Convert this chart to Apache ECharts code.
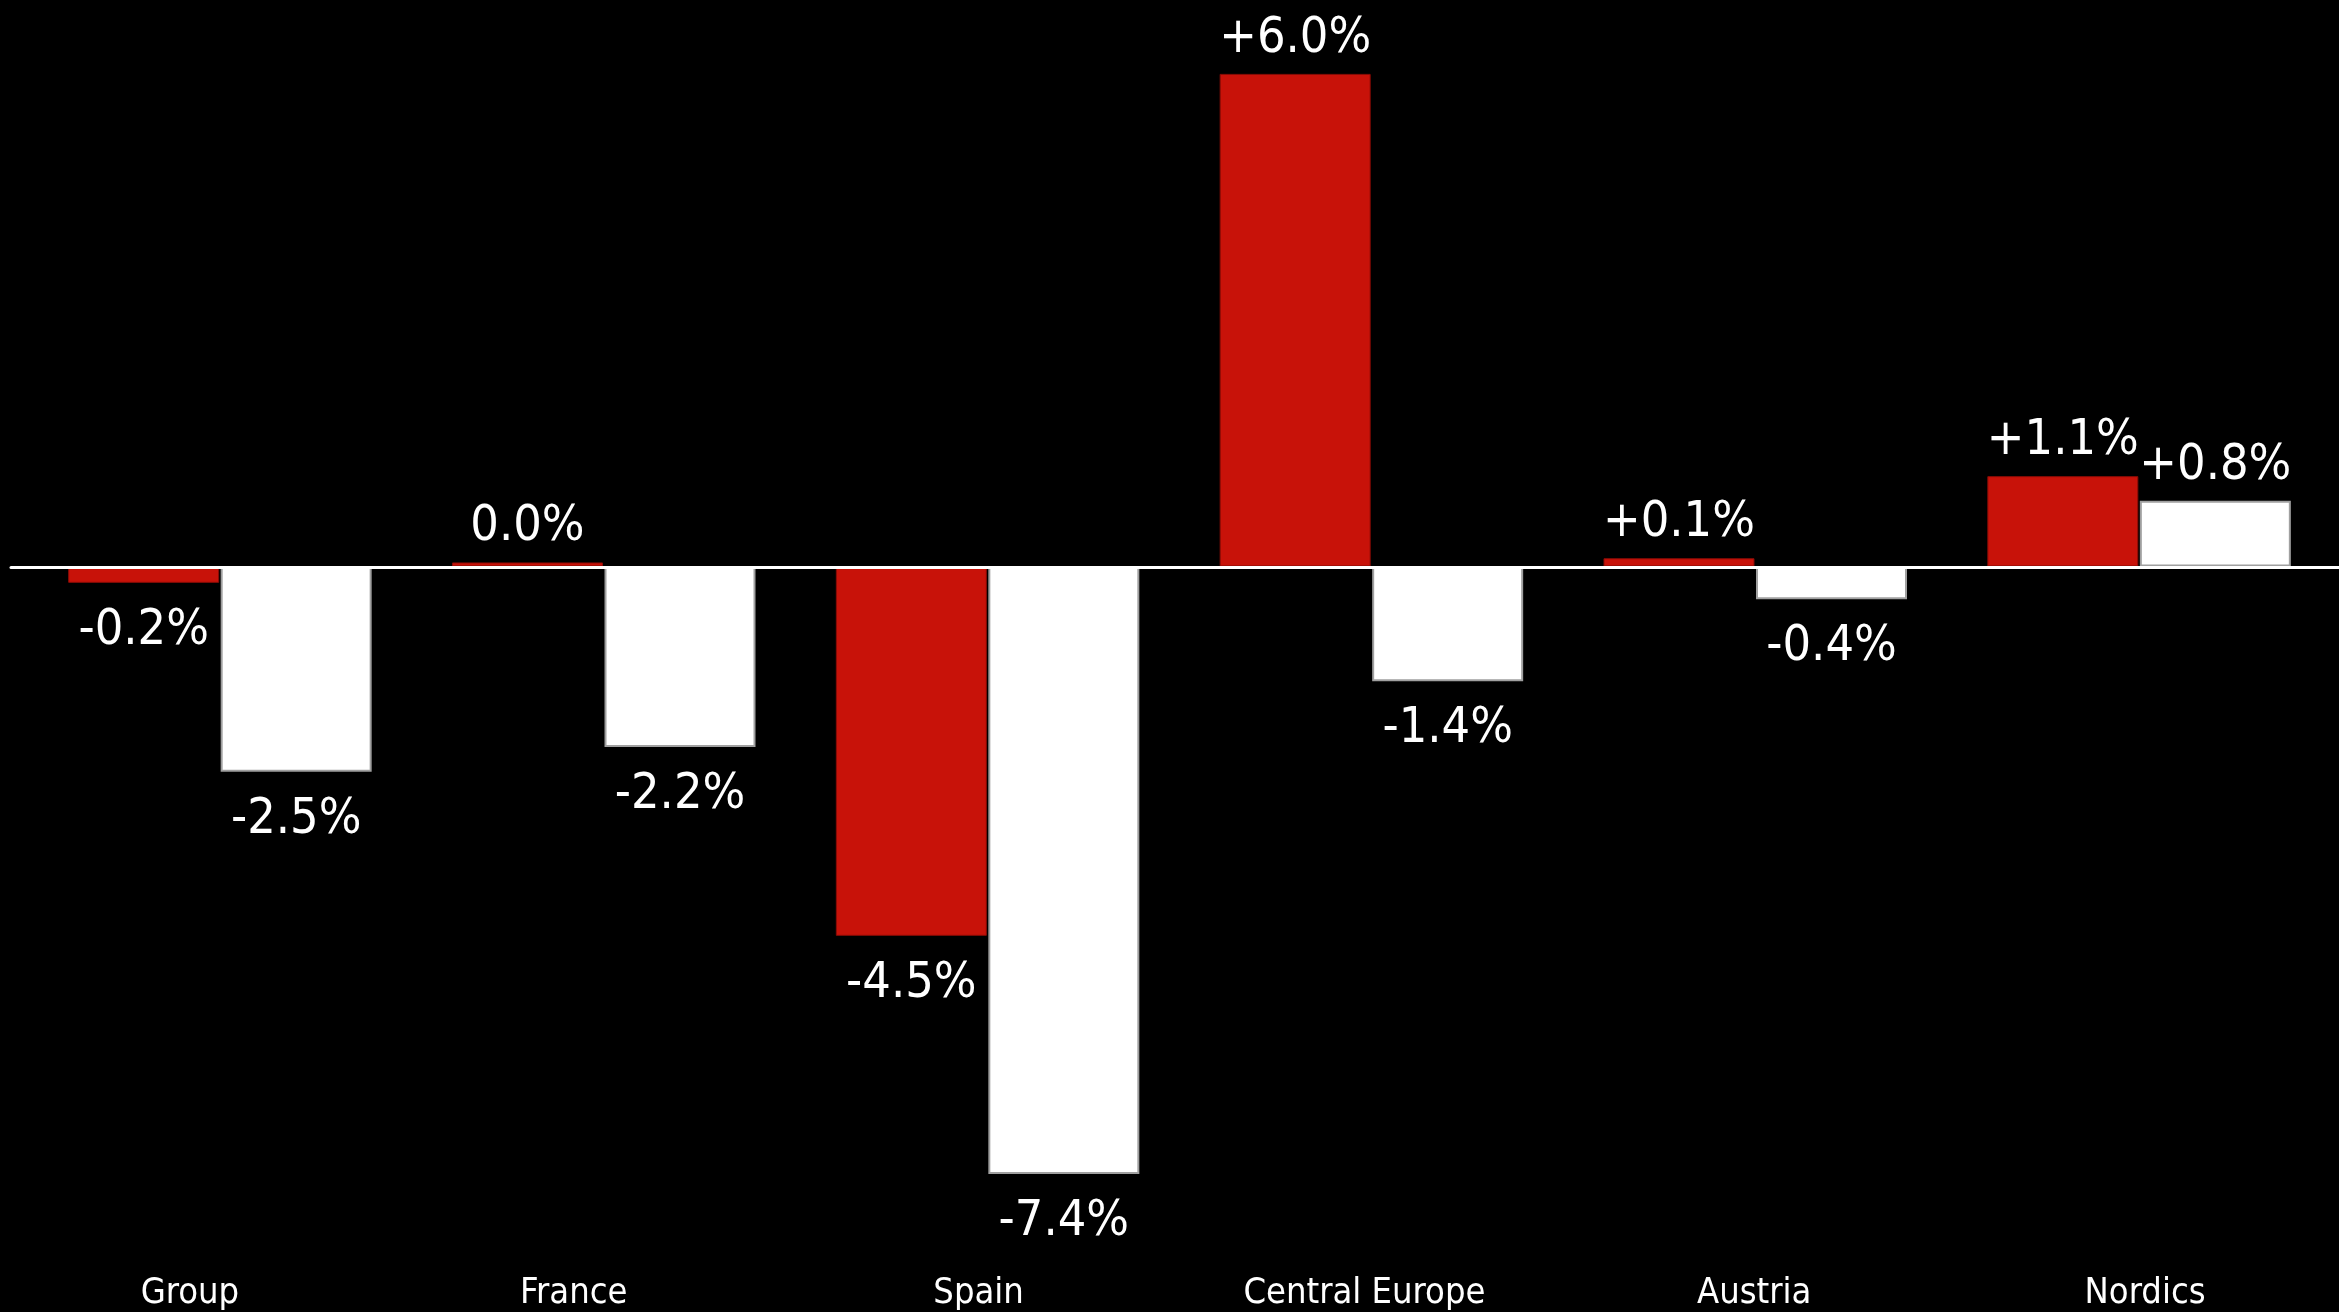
<!DOCTYPE html>
<html>
<head>
<meta charset="utf-8">
<script src="https://cdn.jsdelivr.net/npm/echarts@6/dist/echarts.min.js"></script>
<style>
html,body{margin:0;padding:0;background:#000;}
#chart{width:2339px;height:1312px;}
</style>
</head>
<body>
<div id="chart"></div>
<script>
const categories = ['Group', 'France', 'Spain', 'Central Europe', 'Austria', 'Nordics'];
const redValues = [-0.2, 0.0, -4.5, 6.0, 0.1, 1.1];
const whiteValues = [-2.5, -2.2, -7.4, -1.4, -0.4, 0.8];
const yMin = -8.4;
const yMax = 6.9;

const FONT = '"DejaVu Sans Condensed", "DejaVu Sans", sans-serif';
// horizontal nudges of the category labels (px), layout only
const catLabelShift = [-30, -30, -9, -7, -1, 6];

function fmt(v) {
  if (v > 0) return '+' + v.toFixed(1) + '%';
  return v.toFixed(1) + '%';
}
function items(vals) {
  return vals.map(v => ({
    value: v,
    label: { position: v >= 0 ? 'top' : 'bottom', distance: v >= 0 ? 10 : 23 }
  }));
}

const labelStyle = {
  show: true,
  color: '#ffffff',
  fontFamily: FONT,
  fontSize: 50,
  formatter: p => fmt(p.value)
};

const rich = {};
catLabelShift.forEach((s, i) => {
  rich['c' + i] = {
    color: '#ffffff', fontFamily: FONT, fontSize: 36,
    padding: s < 0 ? [0, -2 * s, 0, 0] : [0, 0, 0, 2 * s]
  };
});

const chart = echarts.init(document.getElementById('chart'));
chart.setOption({
  backgroundColor: '#000000',
  animation: false,
  grid: [
    { left: 28, right: 8, top: 0, height: 1257 },
    { left: 11, right: 0, top: 0, height: 1257 }
  ],
  xAxis: [
    {
      type: 'category', gridIndex: 0, data: categories,
      axisLine: { show: false }, axisTick: { show: false },
      axisLabel: {
        color: '#ffffff', fontFamily: FONT, fontSize: 36, margin: 20, interval: 0,
        formatter: (val, idx) => '{c' + idx + '|' + val + '}',
        rich: rich
      }
    },
    {
      type: 'category', gridIndex: 1, data: [''],
      axisLine: { show: true, onZero: true, lineStyle: { color: '#ffffff', width: 3 } },
      axisTick: { show: false }, axisLabel: { show: false }, z: 5
    }
  ],
  yAxis: [
    { type: 'value', gridIndex: 0, min: yMin, max: yMax, show: false, splitLine: { show: false } },
    { type: 'value', gridIndex: 1, min: yMin, max: yMax, show: false, splitLine: { show: false } }
  ],
  series: [
    {
      type: 'bar', xAxisIndex: 0, yAxisIndex: 0,
      data: items(redValues),
      barWidth: 151, barGap: '1%', barMinHeight: 4,
      itemStyle: { color: '#C81209', borderColor: '#8a0c06', borderWidth: 1 },
      label: labelStyle
    },
    {
      type: 'bar', xAxisIndex: 0, yAxisIndex: 0,
      data: items(whiteValues),
      barWidth: 151, barGap: '1%', barMinHeight: 4,
      itemStyle: { color: '#ffffff', borderColor: '#a0a0a0', borderWidth: 2 },
      label: labelStyle
    }
  ]
});
</script>
</body>
</html>
